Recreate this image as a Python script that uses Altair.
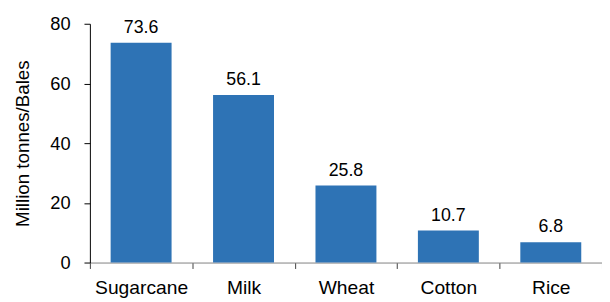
import altair as alt
import pandas as pd

categories = ["Sugarcane", "Milk", "Wheat", "Cotton", "Rice"]
values = [73.6, 56.1, 25.8, 10.7, 6.8]

df = pd.DataFrame({"cat": categories, "val": values})

FONT = "Liberation Sans"

x = alt.X("cat:N", sort=categories, title=None,
          scale=alt.Scale(paddingInner=0, paddingOuter=0),
          axis=alt.Axis(labelAngle=0, tickBand="extent", labelFontSize=19.5,
                        labelColor="#000", labelFont=FONT, domainColor="#808080",
                        tickColor="#404040", tickSize=6, labelPadding=10))
y = alt.Y("val:Q", title="Million tonnes/Bales",
          scale=alt.Scale(domain=[0, 80]),
          axis=alt.Axis(values=[0, 20, 40, 60, 80], grid=False, labelFontSize=18.5,
                        labelColor="#000", labelFont=FONT, titleFont=FONT,
                        titleFontSize=19, titleFontWeight="normal", titleColor="#000",
                        domainColor="#000", tickColor="#000", tickSize=6,
                        titlePadding=18, labelPadding=14))

base = alt.Chart(df)
bars = base.mark_bar(color="#2E73B5", width=alt.RelativeBandSize(0.595)).encode(x=x, y=y)
text = base.mark_text(dy=-10, baseline="alphabetic", fontSize=18, font=FONT, color="#000").encode(
    x=alt.X("cat:N", sort=categories), y="val:Q", text=alt.Text("val:Q", format=".1f"))

chart = (bars + text).properties(
    width=519, height=242,
    autosize=alt.AutoSizeParams(type="none"),
    padding={"left": 83, "top": 14, "right": 0, "bottom": 38},
).configure_view(stroke=None)

chart.save("out.html", embed_options={"renderer": "svg", "actions": False})
